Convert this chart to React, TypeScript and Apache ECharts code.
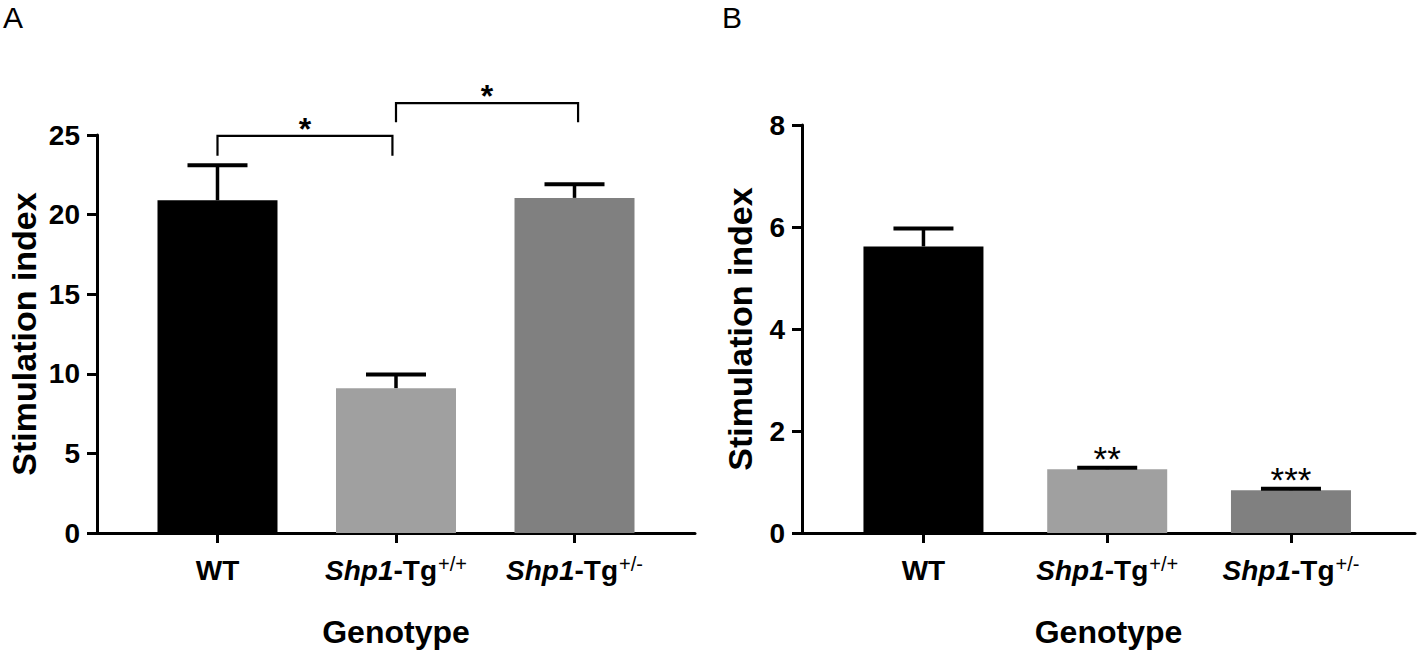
import React, { useEffect, useRef } from "react";
import * as echarts from "echarts";

// ---- data ----
const categoryGene = ["", "Shp1", "Shp1"];
const categoryRest = ["WT", "-Tg", "-Tg"];
const categorySup = ["", "+/+", "+/-"];
const barColors = ["#000000", "#a0a0a0", "#808080"];

const aMeans = [20.9, 9.1, 21.05];
const aSem = [2.2, 0.85, 0.85];
const aTicks = [0, 5, 10, 15, 20, 25];
// [from category, to category, bracket top, leg bottom, label]
const aBrackets: [number, number, number, number, string][] = [
  [0, 0.98, 24.95, 23.7, "*"],
  [1.0, 2.02, 27.0, 25.8, "*"],
];

const bMeans = [5.62, 1.25, 0.84];
const bSem = [0.35, 0.03, 0.03];
const bTicks = [0, 2, 4, 6, 8];
const bStars = ["", "**", "***"];

const FONT = '"Liberation Sans", Arial, sans-serif';
const catIdx = [0, 1, 2];

function labelFormatter(v: number) {
  const i = Math.round(v);
  if (!categoryGene[i]) return "{b|" + categoryRest[i] + "}";
  return "{i|" + categoryGene[i] + "}{b|" + categoryRest[i] + "}{sup|" + categorySup[i] + "}";
}

const richLabels = {
  b: { fontFamily: FONT, fontWeight: "bold", fontSize: 28, color: "#000", lineHeight: 32 },
  i: { fontFamily: FONT, fontWeight: "bold", fontStyle: "italic", fontSize: 28, color: "#000", lineHeight: 32 },
  sup: { fontFamily: FONT, fontWeight: "normal", fontSize: 20, color: "#000", verticalAlign: "top", lineHeight: 32, padding: [0, 0, 16, 1] },
};

function makeXAxis(gridIndex: number, min: number, max: number) {
  return {
    type: "value",
    gridIndex,
    min,
    max,
    axisLine: { onZero: false, lineStyle: { color: "#000", width: 3 } },
    axisTick: { customValues: catIdx, length: 10, lineStyle: { color: "#000", width: 3 } },
    axisLabel: { customValues: catIdx, formatter: labelFormatter, rich: richLabels, margin: 21 },
    splitLine: { show: false },
    name: "Genotype",
    nameLocation: "middle",
    nameGap: 83,
    nameTextStyle: { fontFamily: FONT, fontWeight: "bold", fontSize: 32, color: "#000" },
  };
}

function makeYAxis(gridIndex: number, max: number, interval: number, nameGap: number) {
  return {
    type: "value",
    gridIndex,
    min: 0,
    max,
    interval,
    axisLine: { show: true, onZero: false, lineStyle: { color: "#000", width: 3 } },
    axisTick: { show: true, length: 10, lineStyle: { color: "#000", width: 3 } },
    axisLabel: { fontFamily: FONT, fontWeight: "bold", fontSize: 28, color: "#000", margin: 17 },
    splitLine: { show: false },
    name: "Stimulation index",
    nameLocation: "middle",
    nameGap,
    nameTextStyle: { fontFamily: FONT, fontWeight: "bold", fontSize: 34, color: "#000" },
  };
}

function barSeries(idx: number, means: number[]) {
  return {
    type: "bar",
    xAxisIndex: idx,
    yAxisIndex: idx,
    barWidth: 120,
    data: means.map((m, i) => ({ value: [i, m], itemStyle: { color: barColors[i] } })),
    silent: true,
  };
}

function errorSeries(idx: number, means: number[], sem: number[], stars: string[] | null) {
  return {
    type: "custom",
    xAxisIndex: idx,
    yAxisIndex: idx,
    z: 5,
    silent: true,
    data: means.map((m, i) => [i, m, sem[i]]),
    renderItem: (params: any, api: any) => {
      const x = api.value(0);
      const m = api.value(1);
      const e = api.value(2);
      const base = api.coord([x, m]);
      const top = api.coord([x, m + e]);
      const children: any[] = [
        { type: "line", shape: { x1: base[0], y1: base[1], x2: top[0], y2: top[1] }, style: { stroke: "#000", lineWidth: 3.5 } },
        { type: "line", shape: { x1: top[0] - 30, y1: top[1], x2: top[0] + 30, y2: top[1] }, style: { stroke: "#000", lineWidth: 4 } },
      ];
      const s = stars ? stars[params.dataIndex] : "";
      if (s) {
        children.push({
          type: "text",
          style: { text: s, x: top[0], y: top[1] - 9, align: "center", verticalAlign: "middle", font: "normal 35px " + FONT, fill: "#000" },
        });
      }
      return { type: "group", children };
    },
  };
}

function bracketSeries(idx: number) {
  return {
    type: "custom",
    xAxisIndex: idx,
    yAxisIndex: idx,
    z: 5,
    silent: true,
    clip: false,
    data: aBrackets.map((b) => [b[0], b[1], b[2], b[3]]),
    renderItem: (params: any, api: any) => {
      const p1 = api.coord([api.value(0), api.value(2)]);
      const p2 = api.coord([api.value(1), api.value(2)]);
      const leg = api.coord([api.value(0), api.value(3)]);
      const label = aBrackets[params.dataIndex][4];
      return {
        type: "group",
        children: [
          {
            type: "polyline",
            shape: { points: [[p1[0], leg[1]], [p1[0], p1[1]], [p2[0], p2[1]], [p2[0], leg[1]]] },
            style: { stroke: "#000", lineWidth: 2.2, fill: "none" },
          },
          {
            type: "text",
            style: { text: label, x: (p1[0] + p2[0]) / 2, y: p1[1] - 7, align: "center", verticalAlign: "middle", font: "bold 32px " + FONT, fill: "#000" },
          },
        ],
      };
    },
  };
}

export default function App() {
  const ref = useRef<HTMLDivElement>(null);
  useEffect(() => {
    if (!ref.current) return;
    const chart = echarts.init(ref.current, null, { renderer: "svg" });
    chart.setOption({
      animation: false,
      backgroundColor: "#ffffff",
      grid: [
        { left: 97, top: 135, width: 598, height: 398 },
        { left: 802, top: 125, width: 613, height: 409 },
      ],
      xAxis: [makeXAxis(0, -0.675, 2.675), makeXAxis(1, -0.661, 2.675)],
      yAxis: [
        makeYAxis(0, aTicks[aTicks.length - 1], aTicks[1] - aTicks[0], 56),
        makeYAxis(1, bTicks[bTicks.length - 1], bTicks[1] - bTicks[0], 45),
      ],
      graphic: [
        { type: "text", left: 3, top: 2, style: { text: "A", font: "30px " + FONT, fill: "#000" } },
        { type: "text", left: 722, top: 2, style: { text: "B", font: "30px " + FONT, fill: "#000" } },
      ],
      series: [
        barSeries(0, aMeans),
        errorSeries(0, aMeans, aSem, null),
        bracketSeries(0),
        barSeries(1, bMeans),
        errorSeries(1, bMeans, bSem, bStars),
      ],
    });
    return () => chart.dispose();
  }, []);
  return (
    <div
      ref={ref}
      style={{ position: "fixed", left: 0, top: 0, width: 1418, height: 653, background: "#fff" }}
    />
  );
}
